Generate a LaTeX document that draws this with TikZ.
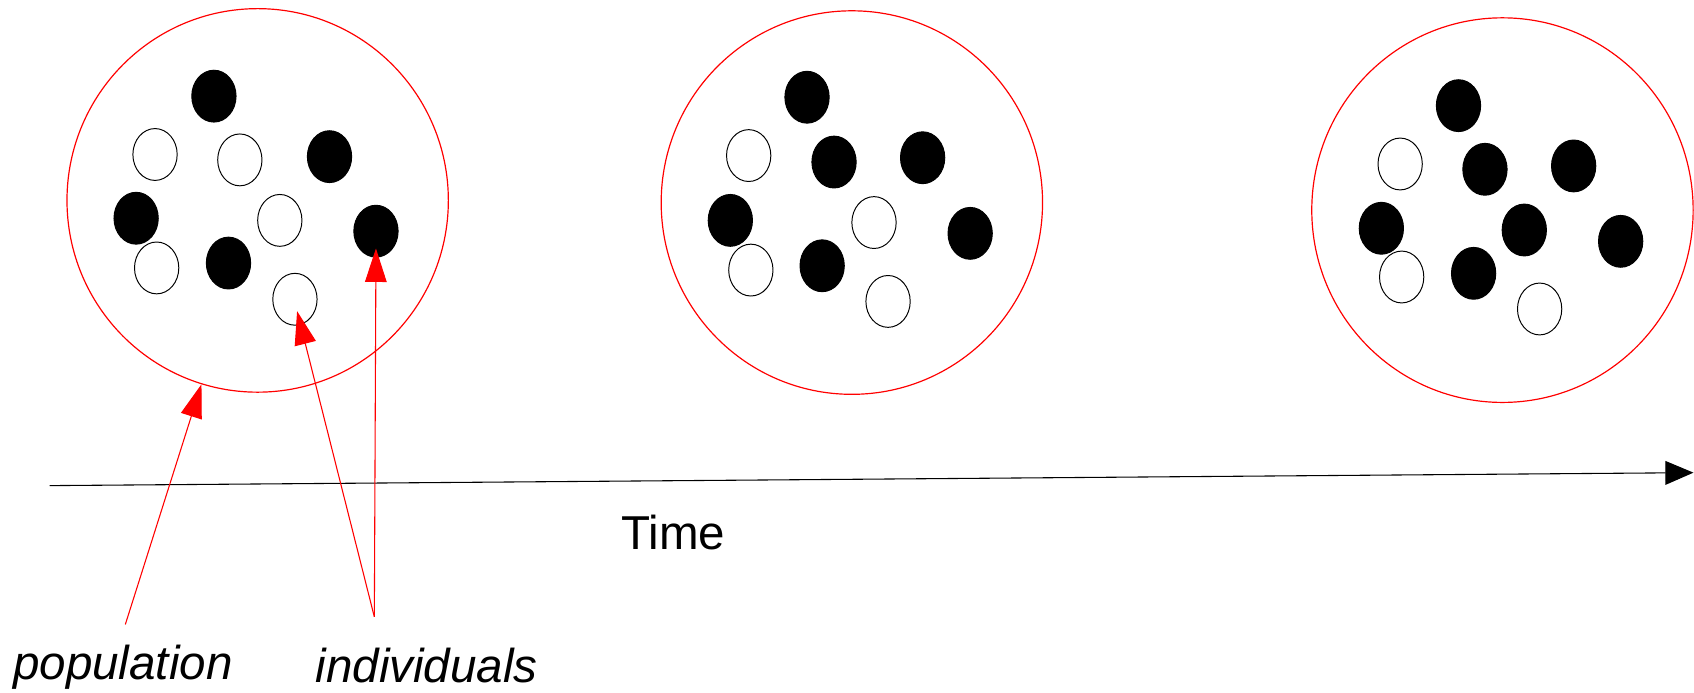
\documentclass[tikz,border=0pt]{standalone}
\usepackage{fontspec}
\setmainfont{Liberation Sans}
\usetikzlibrary{shapes.geometric,arrows.meta}
\begin{document}
\begin{tikzpicture}[x=1pt,y=-1pt,
  pop/.style={ellipse, draw=red, line width=1.1pt, inner sep=0},
  ind/.style={ellipse, draw=black, line width=0.9pt, minimum width=41pt, minimum height=48pt, inner sep=0, fill=white},
  indb/.style={ind, fill=black},
  redarrow/.style={draw=red, line width=1pt, -{Triangle[length=31pt,width=20pt,fill=red]}},
  timearrow/.style={draw=black, line width=1pt, -{Triangle[length=26pt,width=22pt,fill=black]}},
  lbl/.style={font=\fontsize{44}{50}\selectfont, inner sep=0, anchor=base west}]
\useasboundingbox (0,0) rectangle (1568,641.4);
% populations
\node[pop, minimum width=353pt, minimum height=355pt] (c1) at (238.5,185.5) {};
\node[pop, minimum width=353pt, minimum height=355pt] (c2) at (788.5,187.5) {};
\node[pop, minimum width=353pt, minimum height=356pt] (c3) at (1390.7,194.5) {};
% population 1
\node[indb] (a1) at (198,89) {};
\node[ind]  (a2) at (143.5,143) {};
\node[ind]  (a3) at (222,148) {};
\node[indb] (a4) at (305,145) {};
\node[indb] (a5) at (126,202) {};
\node[ind]  (a6) at (259,204) {};
\node[indb] (a7) at (348,214) {};
\node[ind]  (a8) at (145,248) {};
\node[indb] (a9) at (211.5,243.5) {};
\node[ind]  (a10) at (273,277) {};
% population 2
\node[indb] (b1) at (747,90) {};
\node[ind]  (b2) at (693,144) {};
\node[indb] (b3) at (772,150) {};
\node[indb] (b4) at (854,146) {};
\node[indb] (b5) at (676,204) {};
\node[ind]  (b6) at (809,206) {};
\node[indb] (b7) at (898,216) {};
\node[ind]  (b8) at (695,250) {};
\node[indb] (b9) at (761,246) {};
\node[ind]  (b10) at (822,279) {};
% population 3
\node[indb] (d1) at (1350,97.8) {};
\node[ind]  (d2) at (1296,151.8) {};
\node[indb] (d3) at (1374.5,156.7) {};
\node[indb] (d4) at (1456.6,153.6) {};
\node[indb] (d5) at (1278.6,211.3) {};
\node[indb] (d6) at (1410.9,212.9) {};
\node[indb] (d7) at (1500.1,223.4) {};
\node[ind]  (d8) at (1297.4,256.4) {};
\node[indb] (d9) at (1364,253) {};
\node[ind]  (d10) at (1425.1,286) {};
% time axis
\coordinate (t0) at (46,449.5);
\coordinate (t1) at (1567.5,437.5);
\draw[timearrow] (t0) -- (t1);
\node[lbl] (time) at (575,509) {Time};
% labels
\node[lbl] (poplbl) at (12,629) {\itshape population};
\node[lbl] (indlbl) at (292,632) {\itshape individuals};
% arrows
\coordinate (ps) at (116,578);
\coordinate (is) at (346.5,571);
\coordinate (itip1) at (348,230);
\coordinate (itip2) at (275,288);
\draw[redarrow] (ps) -- (c1.253);
\draw[redarrow] (is) -- (itip1);
\draw[redarrow] (is) -- (itip2);
\end{tikzpicture}
\end{document}
